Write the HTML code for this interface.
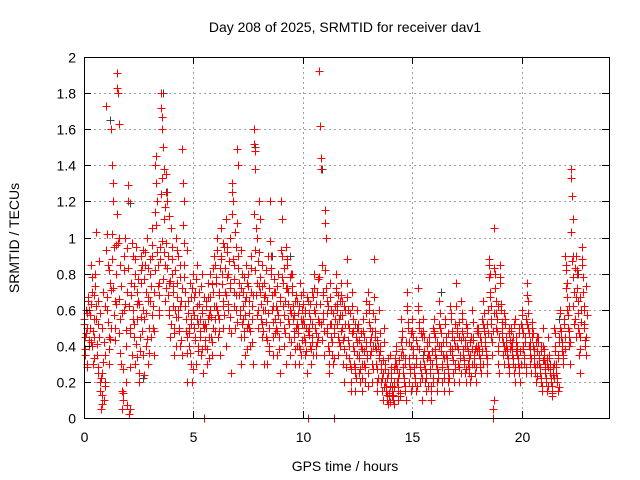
<!DOCTYPE html>
<html><head><meta charset="utf-8"><style>
body{margin:0;background:#fff;}
svg{display:block;font-family:"Liberation Sans",sans-serif;}
</style></head><body>
<svg id="chart" width="640" height="480">
<rect x="0" y="0" width="640" height="480" fill="#fff"/>
<text x="345" y="32" font-size="14" text-anchor="middle">Day 208 of 2025, SRMTID for receiver dav1</text>
<text x="345" y="471" font-size="14" text-anchor="middle">GPS time / hours</text>
<text transform="translate(19,238) rotate(-90)" font-size="14" text-anchor="middle">SRMTID / TECUs</text>
<g id="grid"></g>
<g id="marks"></g>
<g id="axes"></g>
</svg>
<script>
const xTicks=[0,5,10,15,20];
const yTicks=[0,0.2,0.4,0.6,0.8,1,1.2,1.4,1.6,1.8,2];
const yTickLabels=["0","0.2","0.4","0.6","0.8","1","1.2","1.4","1.6","1.8","2"];
const binTimes=[0,0.25,0.5,0.75,1,1.25,1.5,1.75,2,2.25,2.5,2.75,3,3.25,3.5,3.75,4,4.25,4.5,4.75,5,5.25,5.5,5.75,6,6.25,6.5,6.75,7,7.25,7.5,7.75,8,8.25,8.5,8.75,9,9.25,9.5,9.75,10,10.25,10.5,10.75,11,11.25,11.5,11.75,12,12.25,12.5,12.75,13,13.25,13.5,13.75,14,14.25,14.5,14.75,15,15.25,15.5,15.75,16,16.25,16.5,16.75,17,17.25,17.5,17.75,18,18.25,18.5,18.75,19,19.25,19.5,19.75,20,20.25,20.5,20.75,21,21.25,21.5,21.75,22,22.25,22.5,22.75];
const binValues=[
[.55,.45,.35,.6,.5,.3,.65,.4],[.6,.5,.85,.4,.7,.3,.55,.45],[.8,1.03,.55,.35,.25,.65,.45,.2],[.15,.05,.25,.5,.7,.1,.35,.2],
[1.73,1.02,.6,.85,.45,.3,.75,.5],[1.6,1.4,1.3,1.2,.95,.65,.5,.8],[1.91,1.83,1.8,1.63,1.0,.85,.55,.3,.15],[.05,.1,.6,.9,1.0,.4,.2,.7],
[1.2,1.29,.02,.05,.5,.75,.35,.9],[.6,.45,.8,.3,.95,.55,.7,.65],[.2,.25,.45,.75,.9,.85,.6,.35],[.55,.85,.7,.4,1.0,.65,.3,.5],
[.8,.65,.45,.9,1.05,.5,.35,.7],[1.4,1.45,1.3,1.2,.85,.6,.75,.95],[1.8,1.72,1.67,1.6,1.5,1.38,1.1,.85,.65],[1.35,1.25,1.2,.9,.75,.6,.45,1.05],
[.95,.8,.7,.5,.35,.6,1.0,.4],[.75,.6,.9,.5,.4,.85,.65,.35],[1.49,1.3,1.2,.85,.7,.55,.2,.45],[.65,.5,.4,.75,.3,.55,.2,.8],
[.6,.5,.45,.7,.3,.85,.55,.4],[.7,.55,.45,.35,.8,.6,.25,.5],[0,.4,.5,.65,.3,.75,.55,.45],[.6,.8,.45,.35,.7,.5,.9,.55],
[.85,.75,1.0,.6,.45,.7,.55,.35],[1.05,.9,.8,.65,.5,.95,.7,.4],[1.1,.95,.8,.6,.5,1.0,.75,.25],[1.3,1.25,1.2,.85,.7,.5,.6,.95],
[1.49,1.4,.9,.75,.6,.45,.3,.8],[.7,.55,.45,.65,.35,.85,.5,.75],[.8,.65,.5,.4,.9,.7,.55,.3],[1.6,1.52,1.48,1.38,1.05,1.0,.75,.5,.6],
[1.2,1.1,.7,.55,.45,.85,.6,.3],[.75,.6,.45,.3,.65,.9,.5,.4],[1.2,.9,.8,.6,.45,.35,.7,.55],[.7,.5,.35,.6,.8,.45,.25,.65],
[1.2,1.1,.9,.75,.5,.4,.65,.3],[.95,.85,.7,.55,.45,.6,.35,.8],[.8,.7,.55,.45,.3,.65,.5,.4],[.65,.5,.4,.3,.75,.55,.35,.6],
[.7,.55,.45,.6,.35,.5,.25,0],[.65,.5,.4,.55,.3,.45,.7,.35],[.8,.6,.5,.4,.35,.7,.55,.45],[1.92,1.62,1.44,1.38,.85,.7,.55,.35],
[1.15,1.08,1.0,.65,.5,.4,.3,.25],[.75,.6,.45,.35,.3,.5,0,.55],[.8,.7,.6,.45,.35,.55,.4,.65],[.75,.65,.5,.3,.45,.2,.6,.35],
[.88,.75,.6,.5,.4,.3,.2,.15],[.7,.55,.4,.3,.25,.15,.45,.35],[.6,.5,.35,.25,.2,.4,.3,.15],[.55,.45,.3,.2,.4,.65,.35,.25],
[.7,.6,.5,.35,.45,.3,.2,.4],[.88,.55,.45,.3,.2,.15,.4,.35],[.6,.4,.3,.2,.15,.1,.25,.5],[.3,.2,.15,.1,.08,.25,.12,.18],
[.35,.25,.18,.12,.1,.2,.08,.3],[.4,.3,.2,.15,.1,.25,.12,.35],[.55,.45,.35,.25,.2,.15,.3,.1],[.7,.6,.5,.3,.2,.25,.4,.15],
[.55,.45,.35,.25,.2,.15,.3,.4],[.72,.6,.5,.3,.2,.25,.45,.1],[.55,.45,.3,.2,.15,.25,.4,.35],[.45,.35,.25,.15,.1,.3,.2,.5],
[.55,.45,.35,.3,.2,.15,.25,.4],[.65,.5,.4,.3,.2,.35,.25,.15],[.55,.45,.35,.3,.25,.2,.15,.4],[.62,.55,.45,.35,.25,.2,.3,.4],
[.75,.5,.4,.3,.2,.45,.35,.25],[.65,.55,.45,.35,.3,.25,.4,.2],[.5,.4,.3,.25,.35,.2,.45,.3],[.6,.45,.35,.3,.25,.4,.2,.5],
[.5,.4,.35,.3,.45,.25,.55,.3],[.65,.5,.45,.4,.35,.3,.25,.6],[.88,.85,.8,.7,.55,.45,.35,.05,0,.1],[1.05,.8,.65,.5,.55,.4,.3,.25],
[.85,.75,.6,.5,.45,.35,.3,.4],[.55,.45,.4,.35,.3,.25,.5,.38],[.5,.4,.35,.3,.45,.25,.55,.2],[.45,.4,.35,.3,.25,.5,.2,.3],
[.6,.5,.4,.35,.3,.45,.25,.55],[.75,.65,.5,.4,.35,.3,.25,.45],[.5,.4,.35,.3,.25,.2,.45,.3],[.45,.35,.3,.25,.2,.4,.15,.5],
[.4,.35,.3,.25,.2,.15,.3,.45],[.35,.3,.25,.2,.15,.12,.28,.22],[.5,.4,.3,.25,.2,.15,.35,.45],[.6,.5,.45,.4,.35,.3,.55,.38],
[.9,.85,.75,.6,.5,.45,.4,.3],[1.38,1.33,1.23,1.1,.9,.7,.55,.45],[.9,.8,.65,.5,.35,.25,.45,.6],[.95,.85,.7,.6,.5,.4,.35,.45]
];
const binValues2=[
[.52,.38,.47,.58,.28,.67,.43],[.57,.63,.42,.78,.48,.33,.68],[.73,.62,.41,.52,.28,.87,.58],[.22,.13,.08,.31,.42,.62,.18],
[.93,.67,.53,.38,.82,.44,.71],[1.02,.88,.72,.57,.43,.96,.63],[1.13,.97,.66,.47,.36,.73,.58],[.27,.14,.82,.63,.49,.94,.07],
[.83,.62,.47,.28,.68,.97,.55],[.73,.52,.88,.41,.63,.34,.77],[.63,.37,.82,.56,.48,.93,.24],[.77,.92,.58,.44,.67,.83,.36],
[.88,.73,.57,.96,.62,.48,.82],[1.14,1.07,.92,.73,.57,.68,.88],[1.24,1.33,.98,.77,.92,1.17,.72],[.97,.83,.68,.57,1.12,.76,.52],
[.88,.73,.62,.47,.82,.56,.93],[.67,.56,.48,.78,.62,.43,.72],[1.07,.97,.78,.62,.48,.93,.36],[.58,.47,.36,.67,.52,.72,.27],
[.67,.57,.43,.77,.62,.37,.52],[.63,.48,.73,.58,.38,.52,.67],[.52,.43,.62,.38,.67,.33,.57],[.67,.56,.74,.42,.83,.62,.48],
[.78,.62,.93,.57,.68,.48,.83],[.88,.74,.62,.97,.57,.83,.68],[.92,.78,.63,.87,.56,.72,.47],[1.13,.88,.77,.62,1.03,.68,.53],
[1.08,.83,.68,.57,.72,.93,.52],[.62,.48,.78,.57,.67,.38,.52],[.73,.58,.48,.83,.62,.42,.68],[1.13,.93,.82,.68,.57,.87,.73],
[.92,.78,.63,.52,.73,.48,.67],[.68,.53,.82,.43,.58,.72,.37],[.98,.83,.68,.53,.62,.77,.47],[.62,.48,.73,.57,.38,.53,.67],
[.93,.78,.62,.57,.83,.47,.72],[.88,.72,.63,.52,.78,.42,.58],[.73,.62,.48,.57,.38,.68,.52],[.58,.47,.62,.38,.68,.52,.43],
[.63,.52,.42,.58,.37,.67,.48],[.58,.46,.63,.38,.52,.42,.67],[.72,.58,.47,.63,.42,.77,.53],[.78,.63,.52,.43,.68,.58,.48],
[.82,.72,.58,.47,.62,.37,.52],[.67,.52,.42,.58,.33,.47,.62],[.72,.63,.52,.68,.42,.57,.48],[.68,.57,.43,.62,.38,.52,.28],
[.67,.52,.43,.33,.58,.27,.47],[.62,.48,.37,.28,.52,.22,.42],[.52,.43,.33,.27,.47,.38,.22],[.48,.37,.28,.58,.42,.33,.18],
[.63,.53,.42,.37,.48,.27,.58],[.67,.48,.38,.27,.43,.22,.33],[.47,.37,.27,.22,.32,.17,.42],[.27,.17,.13,.22,.33,.14,.09],
[.28,.22,.15,.13,.27,.17,.33],[.37,.27,.22,.17,.32,.14,.42],[.48,.38,.28,.22,.33,.18,.42],[.62,.53,.42,.33,.27,.47,.18],
[.48,.38,.28,.22,.33,.43,.18],[.62,.53,.38,.28,.47,.22,.33],[.48,.37,.27,.22,.33,.42,.18],[.42,.32,.27,.18,.37,.22,.47],
[.48,.38,.33,.27,.42,.22,.52],[.58,.47,.37,.28,.42,.33,.22],[.52,.42,.33,.27,.47,.22,.37],[.58,.48,.38,.32,.43,.27,.52],
[.62,.47,.38,.28,.53,.33,.43],[.58,.48,.38,.32,.43,.27,.52],[.47,.37,.28,.33,.42,.23,.38],[.53,.43,.33,.38,.28,.48,.37],
[.47,.38,.33,.28,.42,.37,.52],[.58,.48,.42,.37,.52,.33,.47],[.78,.67,.62,.52,.42,.48,.58],[.83,.72,.58,.48,.62,.37,.45],
[.78,.63,.53,.47,.42,.58,.37],[.52,.42,.38,.33,.47,.28,.43],[.48,.38,.42,.33,.52,.28,.37],[.42,.38,.33,.47,.28,.37,.52],
[.57,.47,.38,.33,.42,.28,.52],[.68,.58,.47,.38,.42,.33,.53],[.47,.38,.33,.28,.42,.23,.37],[.42,.33,.28,.22,.37,.18,.32],
[.38,.32,.27,.22,.33,.18,.28],[.33,.27,.22,.18,.14,.24,.3],[.47,.37,.28,.22,.33,.17,.42],[.58,.48,.42,.37,.33,.52,.45],
[.82,.72,.67,.57,.48,.62,.42],[1.03,.87,.78,.62,.52,.83,.67],[.82,.72,.58,.47,.38,.67,.53],[.88,.78,.62,.52,.43,.73,.57]
];
const blackTimes=[1.2,2.1,3.6,3.3,7.0,7.8,10.9,2.7,5.9,9.4,13.3,16.3,21.7,22.6,3.75,8.6,12.5,15.5];
const blackValues=[1.65,1.19,1.8,1.45,1.49,1.5,1.38,0.22,0.7,0.9,0.4,0.7,0.55,0.8,1.25,0.9,0.5,0.35];

const L=84,R=609,T=57,B=418,XMAX=24,YMAX=2;
const NS="http://www.w3.org/2000/svg";
function xs(v){return L+v/XMAX*(R-L);}
function ys(v){return B-v/YMAX*(B-T);}
const grid=document.getElementById('grid'),axes=document.getElementById('axes'),marks=document.getElementById('marks');
function line(p,x1,y1,x2,y2,st,dash){const e=document.createElementNS(NS,'line');e.setAttribute('x1',x1);e.setAttribute('y1',y1);e.setAttribute('x2',x2);e.setAttribute('y2',y2);e.setAttribute('stroke',st);if(dash)e.setAttribute('stroke-dasharray',dash);p.appendChild(e);return e;}
function txt(p,x,y,s,anchor){const e=document.createElementNS(NS,'text');e.setAttribute('x',x);e.setAttribute('y',y);e.setAttribute('font-size','14');e.setAttribute('text-anchor',anchor);e.textContent=s;p.appendChild(e);return e;}
yTicks.forEach((v,i)=>{const y=Math.round(ys(v))+0.5;
 if(v>0&&v<YMAX){const g=line(grid,L,y,R,y,'#a0a0a0','2,3');
 
 }
 line(axes,L,y,L+7,y,'#000');line(axes,R-7,y,R,y,'#000');
 const t=txt(axes,L-8,y+5,yTickLabels[i],'end');
 
 });
xTicks.forEach(v=>{const x=Math.round(xs(v))+0.5;
 if(v>0){const g=line(grid,x,T,x,B,'#a0a0a0','2,3');
 
 }
 line(axes,x,B,x,B-7,'#000');line(axes,x,T,x,T+7,'#000');
 const t=txt(axes,x,B+24,String(v),'middle');
 
 });
const fr=document.createElementNS(NS,'rect');fr.setAttribute('x',L+0.5);fr.setAttribute('y',T+0.5);fr.setAttribute('width',R-L);fr.setAttribute('height',B-T);fr.setAttribute('fill','none');fr.setAttribute('stroke','#000');


axes.appendChild(fr);
function plus(t,v,col,name){const x=Math.round(xs(t))+0.5,y=Math.round(ys(v))+0.5;const p=document.createElementNS(NS,'path');
 p.setAttribute('d',`M${x-4} ${y}H${x+4}M${x} ${y-4}V${y+4}`);p.setAttribute('stroke',col);p.setAttribute('stroke-width','1');
 
 
 marks.appendChild(p);}
blackTimes.forEach((t,i)=>{plus(t,blackValues[i],'#404040','srmtid-point-alt');});
binValues.forEach((vals,i)=>{vals.forEach((v,k)=>{plus(binTimes[i]+k*0.25/vals.length,v,'#ff0000','srmtid-point');});});
binValues2.forEach((vals,i)=>{vals.forEach((v,k)=>{plus(binTimes[i]+0.015+k*0.25/vals.length,v,'#ff0000','srmtid-point');});});
</script>
</body></html>
